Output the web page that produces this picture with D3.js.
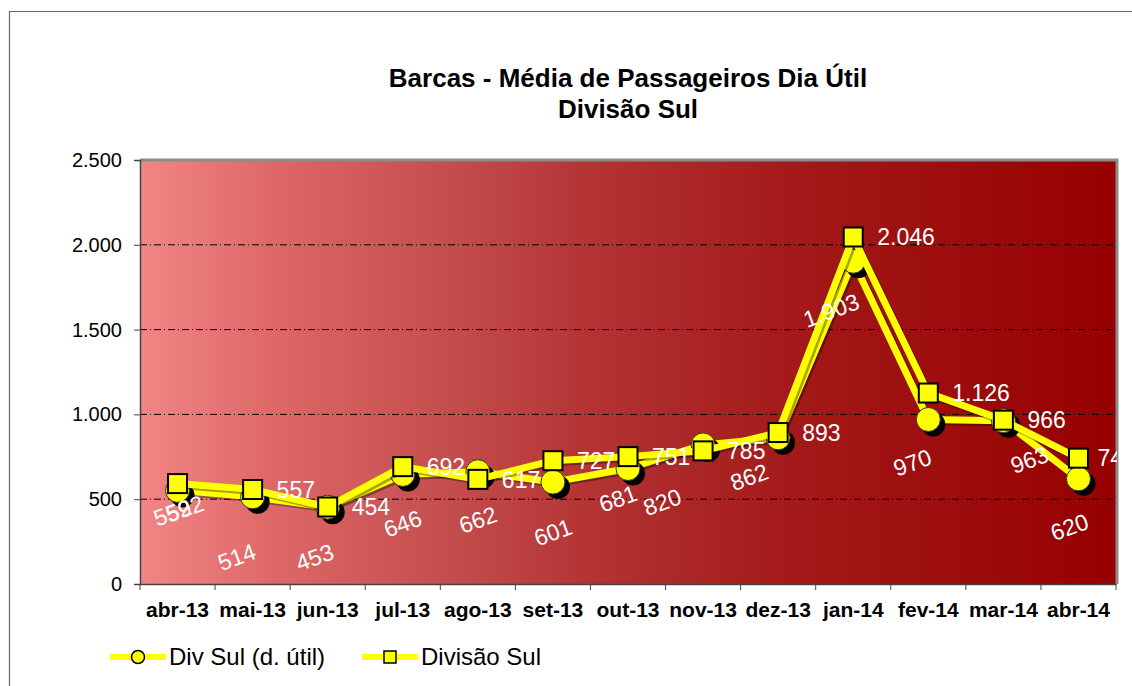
<!DOCTYPE html>
<html>
<head>
<meta charset="utf-8">
<script src="https://cdn.jsdelivr.net/npm/d3@7"></script>
<style>
  body { margin: 0; background: #fff; }
  svg text { font-family: Arial, "Liberation Sans", sans-serif; }
</style>
</head>
<body>
<div id="chart"></div>
<script>
// data
var months = ["abr-13","mai-13","jun-13","jul-13","ago-13","set-13","out-13","nov-13","dez-13","jan-14","fev-14","mar-14","abr-14"];
var divSulUtil = [552, 514, 453, 646, 662, 601, 681, 820, 862, 1903, 970, 963, 620];
var divisaoSul = [592, 557, 454, 692, 617, 727, 751, 785, 893, 2046, 1126, 966, 742];
var yTicks = [0, 500, 1000, 1500, 2000, 2500];
var seriesNames = ["Div Sul (d. útil)", "Divisão Sul"];

// hand placed label nudges [dx, dy, angle]
var circLabelNudge = [[-5,22,-20],[-16,60,-20],[-13,50,-20],[0,49,-20],[0,48,-20],[0,50,-20],[-10,30,-20],[-41,57,-20],[-29,39,-20],[-22,49,-20],[-16,43,-20],[26,39,-20],[-9,48,-20]];
var sqLabelNudge = [[7,25,-20],[24,0,0],[24,0,0],[24,0,0],[24,0,0],[24,0,0],[24,0,0],[24,0,0],[24,0,0],[24,0,0],[24,0,0],[24,0,0],[19,0,0]];

var W = 1132, H = 686;
var plot = {left:140, top:160, right:1116, bottom:584};

var locale = d3.formatLocale({decimal:",", thousands:".", grouping:[3], currency:["R$",""]});
var fmt = locale.format(",d");

var svg = d3.select("#chart").append("svg")
    .attr("width", W).attr("height", H);

// outer chart border
svg.append("path")
    .attr("d", "M9.5," + H + "V11.5H" + W)
    .attr("fill", "none").attr("stroke", "#666").attr("stroke-width", 1.2);

var defs = svg.append("defs");
var grad = defs.append("linearGradient").attr("id", "bg").attr("x1", "0%").attr("x2", "100%");
[[0,"#F28585"],[0.15,"#DC6565"],[0.3,"#C65050"],[0.47,"#B33232"],[0.68,"#A31818"],[1,"#960000"]]
  .forEach(function(s){ grad.append("stop").attr("offset", s[0]).attr("stop-color", s[1]); });

defs.append("clipPath").attr("id", "clipR")
  .append("rect").attr("x", 0).attr("y", 0).attr("width", plot.right + 1).attr("height", H);

var x = d3.scaleBand().domain(months).range([plot.left, plot.right]);
var y = d3.scaleLinear().domain([0, 2500]).range([plot.bottom, plot.top]);
var cx = function(i){ return x(months[i]) + x.bandwidth()/2; };

// plot area
svg.append("rect")
    .attr("x", plot.left).attr("y", plot.top)
    .attr("width", plot.right - plot.left).attr("height", plot.bottom - plot.top)
    .attr("fill", "url(#bg)");
svg.append("path")
    .attr("d", "M" + plot.left + "," + (plot.top) + "H" + (plot.right + 1) + "V" + plot.bottom)
    .attr("fill", "none").attr("stroke", "#8c8c8c").attr("stroke-width", 3);

// grid lines
svg.append("g").selectAll("line")
    .data(yTicks.filter(function(d){ return d > 0 && d < 2500; }))
    .enter().append("line")
    .attr("x1", plot.left).attr("x2", plot.right)
    .attr("y1", function(d){ return y(d); }).attr("y2", function(d){ return y(d); })
    .attr("stroke", "#000").attr("stroke-width", 1)
    .attr("stroke-dasharray", "7,3,1,3");

// y axis
var yAxis = svg.append("g")
    .attr("transform", "translate(" + plot.left + ",0)")
    .call(d3.axisLeft(y).tickValues(yTicks).tickFormat(fmt).tickSize(6).tickPadding(12));
yAxis.select(".domain").attr("stroke", "#444").attr("stroke-width", 1.5);
yAxis.selectAll(".tick line").attr("stroke", "#444");
yAxis.selectAll("text").attr("font-size", 20).attr("fill", "#000")
    .style("font-family", "Arial, 'Liberation Sans', sans-serif");

// x axis
var xAxis = svg.append("g")
    .attr("transform", "translate(0," + plot.bottom + ")")
    .call(d3.axisBottom(x).tickSize(0).tickPadding(18));
xAxis.select(".domain").attr("stroke", "#444").attr("stroke-width", 1.5);
xAxis.selectAll("text").attr("font-size", 21).attr("font-weight", "bold").attr("fill", "#000")
    .style("font-family", "Arial, 'Liberation Sans', sans-serif");
xAxis.selectAll(".bnd").data(d3.range(months.length + 1)).enter().append("line")
    .attr("x1", function(i){ return plot.left + i * x.bandwidth(); })
    .attr("x2", function(i){ return plot.left + i * x.bandwidth(); })
    .attr("y1", 0).attr("y2", 6).attr("stroke", "#444");

var line = d3.line().x(function(d, i){ return cx(i); }).y(function(d){ return y(d); });

// series 1: circles
svg.append("path").datum(divSulUtil).attr("d", line)
    .attr("transform", "translate(2,2)")
    .attr("fill", "none").attr("stroke", "#000").attr("stroke-opacity", 0.35).attr("stroke-width", 7);
svg.append("path").datum(divSulUtil).attr("d", line)
    .attr("fill", "none").attr("stroke", "#FFFF00").attr("stroke-width", 7).attr("stroke-linejoin", "round");
var g1 = svg.append("g");
g1.selectAll(".sh").data(divSulUtil).enter().append("circle")
    .attr("cx", function(d, i){ return cx(i) + 5; }).attr("cy", function(d){ return y(d) + 5; })
    .attr("r", 12).attr("fill", "#000");
g1.selectAll(".mk").data(divSulUtil).enter().append("circle")
    .attr("cx", function(d, i){ return cx(i); }).attr("cy", function(d){ return y(d); })
    .attr("r", 12).attr("fill", "#FFFF00").attr("stroke", "#333").attr("stroke-width", 1);

// series 2: squares
svg.append("path").datum(divisaoSul).attr("d", line)
    .attr("transform", "translate(2,2)")
    .attr("fill", "none").attr("stroke", "#000").attr("stroke-opacity", 0.35).attr("stroke-width", 7);
svg.append("path").datum(divisaoSul).attr("d", line)
    .attr("fill", "none").attr("stroke", "#FFFF00").attr("stroke-width", 7).attr("stroke-linejoin", "round");
var g2 = svg.append("g");
g2.selectAll(".mk").data(divisaoSul).enter().append("rect")
    .attr("x", function(d, i){ return cx(i) - 9.5; }).attr("y", function(d){ return y(d) - 9.5; })
    .attr("width", 19).attr("height", 19)
    .attr("fill", "#FFFF00").attr("stroke", "#000").attr("stroke-width", 2);

// data labels
var labels = svg.append("g").attr("clip-path", "url(#clipR)")
    .attr("fill", "#fff").attr("font-size", 23);
function addLabels(vals, nudge){
  labels.selectAll(null).data(vals).enter().append("text")
    .attr("transform", function(d, i){
      var n = nudge[i];
      return "translate(" + (cx(i) + n[0]) + "," + (y(d) + n[1]) + ") rotate(" + n[2] + ")";
    })
    .attr("text-anchor", function(d, i){ return nudge[i][2] ? "middle" : "start"; })
    .attr("dy", "0.36em")
    .text(function(d){ return fmt(d); });
}
addLabels(divSulUtil, circLabelNudge);
addLabels(divisaoSul, sqLabelNudge);

// title
var title = svg.append("g").attr("font-weight", "bold").attr("font-size", 26).attr("text-anchor", "middle");
title.append("text").attr("x", 628).attr("y", 87).text("Barcas - Média de Passageiros Dia Útil");
title.append("text").attr("x", 628).attr("y", 118).text("Divisão Sul");

// legend
var leg = svg.append("g");
var legX = [110, 362];
seriesNames.forEach(function(name, k){
  var lx = legX[k], ly = 657;
  leg.append("line").attr("x1", lx).attr("x2", lx + 56).attr("y1", ly).attr("y2", ly)
     .attr("stroke", "#FFFF00").attr("stroke-width", 6);
  if (k === 0) {
    leg.append("circle").attr("cx", lx + 28).attr("cy", ly).attr("r", 6.5)
       .attr("fill", "#FFFF00").attr("stroke", "#000").attr("stroke-width", 1.5);
  } else {
    leg.append("rect").attr("x", lx + 22).attr("y", ly - 6).attr("width", 12).attr("height", 12)
       .attr("fill", "#FFFF00").attr("stroke", "#000").attr("stroke-width", 1.5);
  }
  leg.append("text").attr("x", lx + 59).attr("y", ly + 8).attr("font-size", 24).text(name);
});
</script>
</body>
</html>
